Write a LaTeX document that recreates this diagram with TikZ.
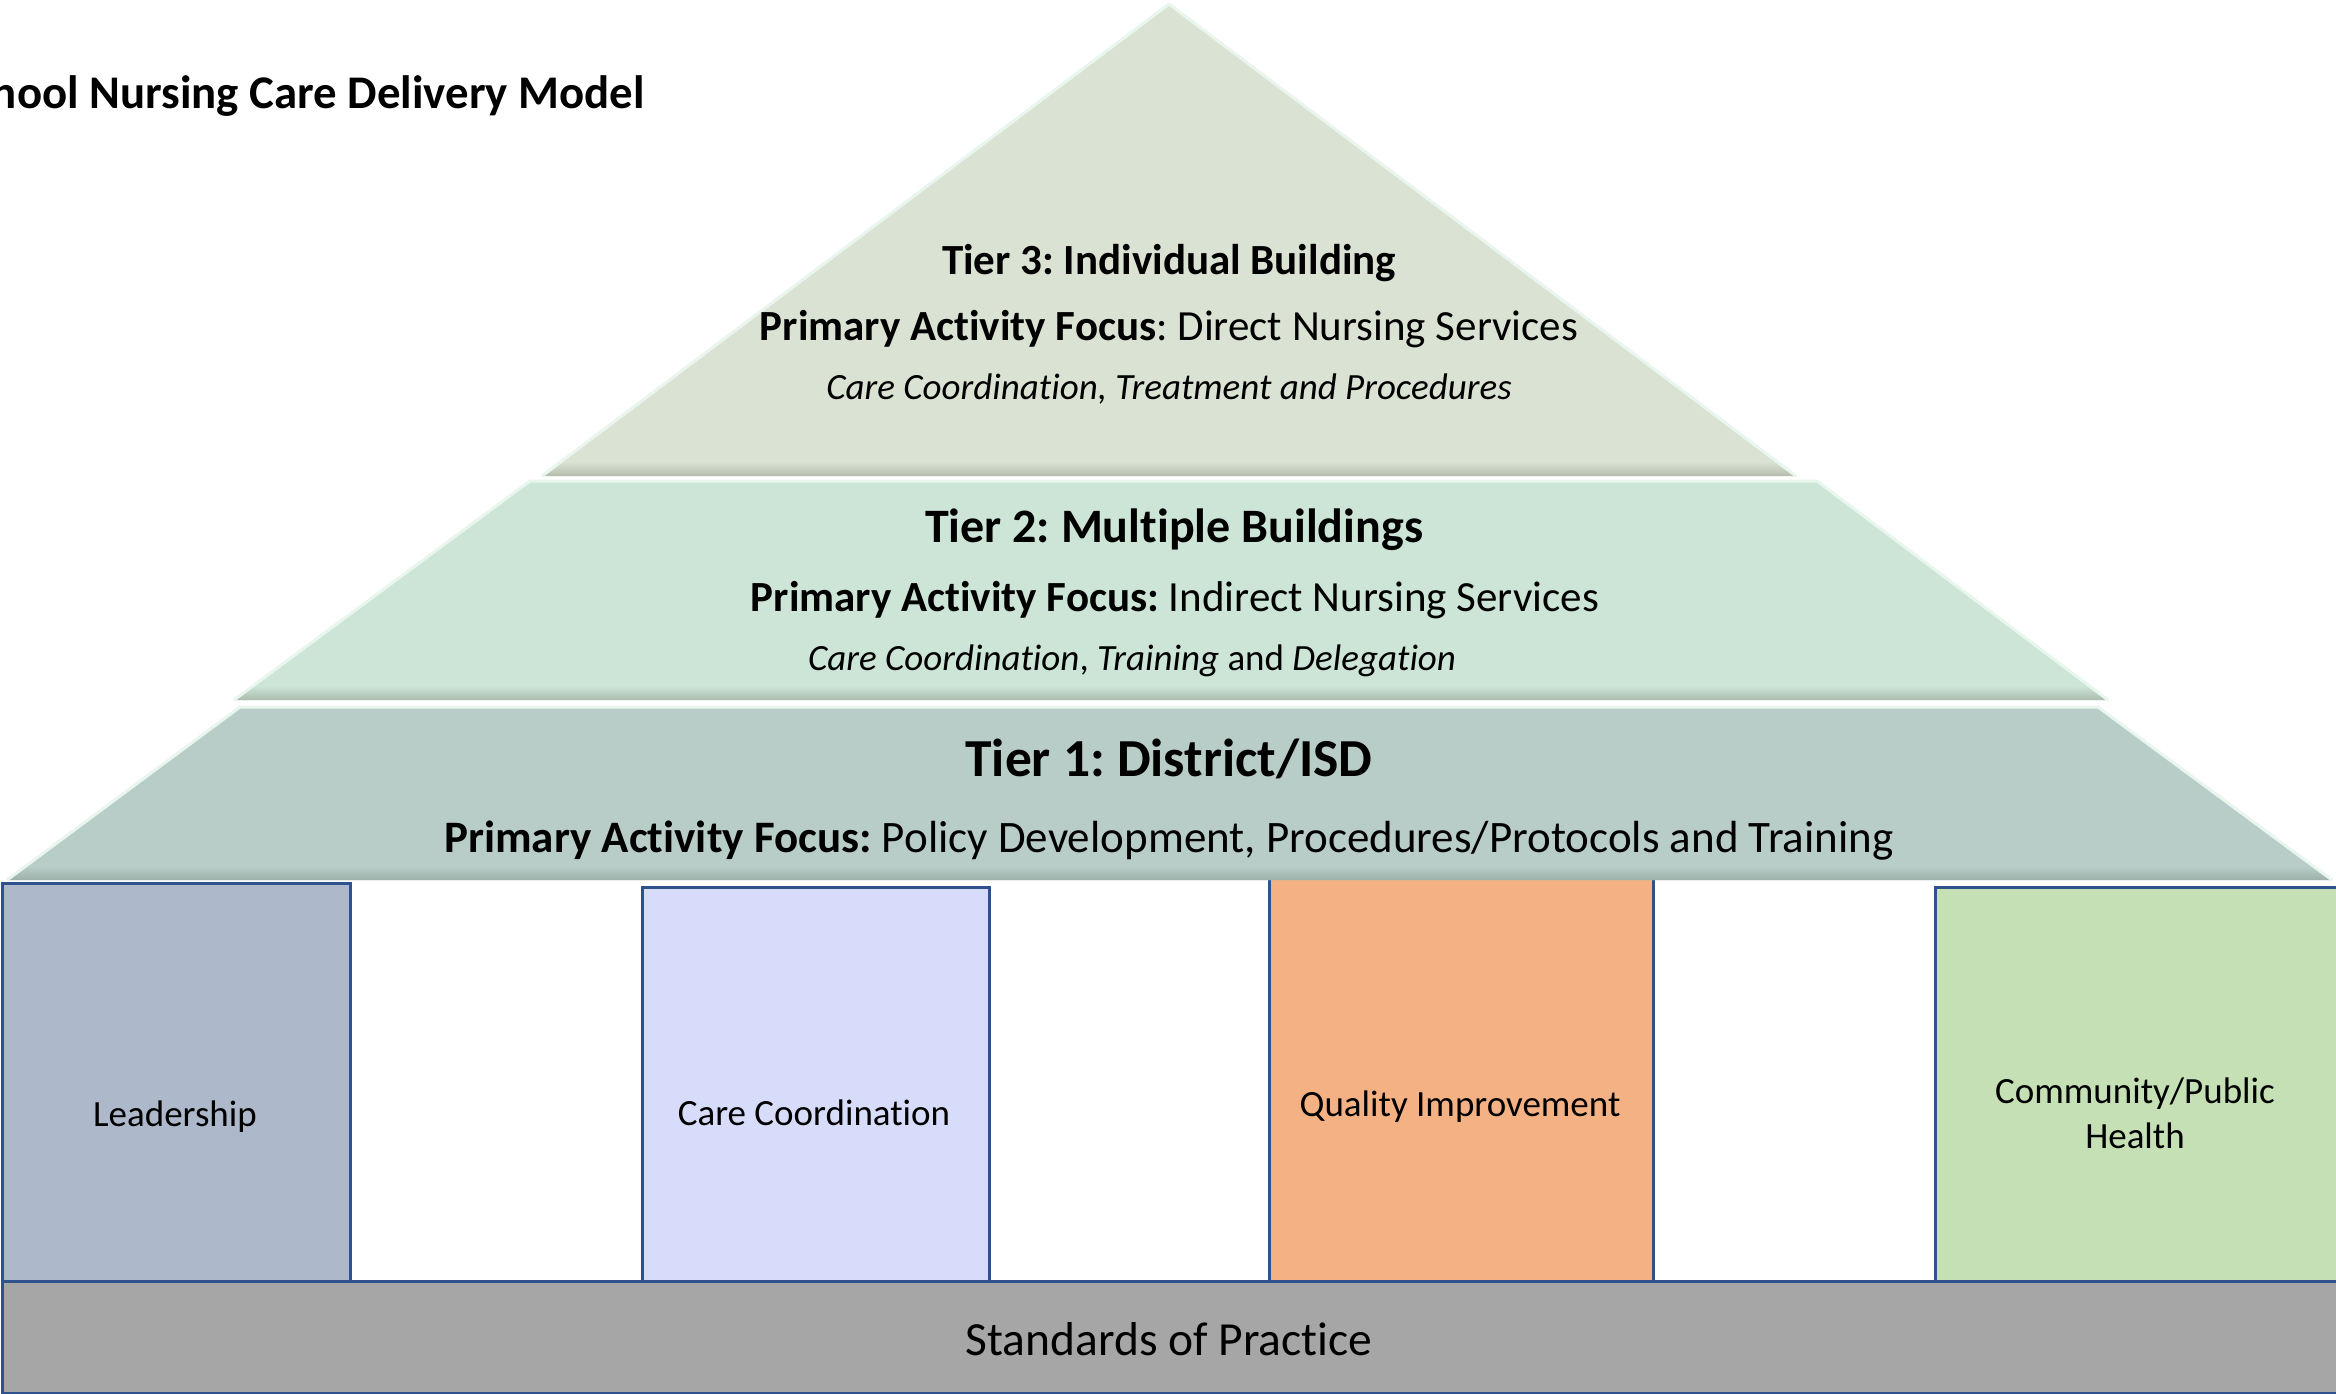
\documentclass[tikz,border=0pt]{standalone}
\usepackage{fontspec}
\setmainfont{Carlito}[Ligatures=NoCommon]
\frenchspacing
\definecolor{tierthree}{HTML}{DAE3D3}
\definecolor{tierthreedark}{HTML}{B4BCAD}
\definecolor{tiertwo}{HTML}{CCE5D6}
\definecolor{tiertwodark}{HTML}{A9BDAE}
\definecolor{tierone}{HTML}{B9CDC8}
\definecolor{tieronedark}{HTML}{9DB0AA}
\definecolor{bevlight}{HTML}{E8F6EE}
\definecolor{pillarline}{HTML}{2F528F}
\definecolor{leadfill}{HTML}{ADB9CA}
\definecolor{carefill}{HTML}{D6DCF9}
\definecolor{qifill}{HTML}{F4B183}
\definecolor{commfill}{HTML}{C5E0B4}
\definecolor{stdfill}{HTML}{A6A6A6}
\begin{document}
\frenchspacing
\begin{tikzpicture}[x=1pt,y=-1pt,
  pillar/.style={draw=pillarline, line width=3pt, inner sep=0pt, anchor=north west},
  pillartext/.style={inner sep=0pt, align=center, font=\fontsize{37}{45}\selectfont},
  tiertext/.style={inner sep=0pt, anchor=base},
  highlight/.style={draw=bevlight, line width=3pt, line join=round}]
\useasboundingbox (0,0) rectangle (2336,1394);
\clip (0,0) rectangle (2336,1394);
\fill[white] (0,0) rectangle (2336,1394);

% title
\node[inner sep=0pt, anchor=base east, font=\bfseries\fontsize{46.8}{55}\selectfont] (title) at (645,109) {School Nursing Care Delivery Model};

% pillars
\node[pillar, fill=leadfill, minimum width=348pt, minimum height=398pt] (lead) at (1,882) {};
\node[pillar, fill=carefill, minimum width=347pt, minimum height=394pt] (care) at (641,886) {};
\node[pillar, fill=qifill, minimum width=384pt, minimum height=403pt] (qi) at (1268,877) {};
\node[pillar, fill=commfill, minimum width=410pt, minimum height=394pt] (comm) at (1934,886) {};
\node[pillar, fill=stdfill, minimum width=2340pt, minimum height=112pt] (std) at (1,1280) {};

\node[pillartext] (leadtext) at (175,1117) {Leadership};
\node[pillartext] (caretext) at (814,1113) {Care Coordination};
\node[pillartext] (qitext) at (1460,1107) {Quality Improvement};
\node[pillartext] (commtext) at (2135,1113) {Community/Public\\Health};
\node[inner sep=0pt, font=\fontsize{47.5}{55}\selectfont] (stdtext) at (1169,1339) {Standards of Practice};

% tier 1
\fill[tierone] (7,880) -- (240,707) -- (2098,707) -- (2332,880) -- cycle;
\shade[top color=tierone, bottom color=tieronedark] (30,866) -- (2313,866) -- (2332,880) -- (7,880) -- cycle;
\draw[highlight] (7,880) -- (240,707) -- (2098,707) -- (2332,880);
% tier 2
\fill[tiertwo] (234,700) -- (530,481) -- (1817,481) -- (2108,700) -- cycle;
\shade[top color=tiertwo, bottom color=tiertwodark] (255,686) -- (2089,686) -- (2108,700) -- (234,700) -- cycle;
\draw[highlight] (234,700) -- (530,481) -- (1817,481) -- (2108,700);
% tier 3
\fill[tierthree] (542,476) -- (1169,4) -- (1796,476) -- cycle;
\shade[top color=tierthree, bottom color=tierthreedark] (563,462) -- (1777,462) -- (1796,476) -- (542,476) -- cycle;
\draw[highlight] (542,476) -- (1169,4) -- (1796,476);

% tier texts
\node[tiertext, font=\bfseries\fontsize{43}{50}\selectfont] (t3title) at (1169,274) {Tier 3: Individual Building};
\node[tiertext, font=\fontsize{43}{50}\selectfont] (t3focus) at (1169,340) {\textbf{Primary Activity Focus}: Direct Nursing Services};
\node[tiertext, font=\itshape\fontsize{37}{44}\selectfont] (t3sub) at (1169,399) {Care Coordination, Treatment and Procedures};

\node[tiertext, font=\bfseries\fontsize{48}{56}\selectfont] (t2title) at (1174,542) {Tier 2: Multiple Buildings};
\node[tiertext, font=\fontsize{43}{50}\selectfont] (t2focus) at (1175,611) {\textbf{Primary Activity Focus:} Indirect Nursing Services};
\node[tiertext, font=\fontsize{37}{44}\selectfont] (t2sub) at (1132,670) {\textit{Care Coordination}, \textit{Training} and \textit{Delegation}};

\node[tiertext, font=\bfseries\fontsize{53.5}{62}\selectfont] (t1title) at (1169,776) {Tier 1: District/ISD};
\node[tiertext, font=\fontsize{45}{52}\selectfont] (t1focus) at (1169,852) {\textbf{Primary Activity Focus:} Policy Development, Procedures/Protocols and Training};
\end{tikzpicture}
\end{document}
